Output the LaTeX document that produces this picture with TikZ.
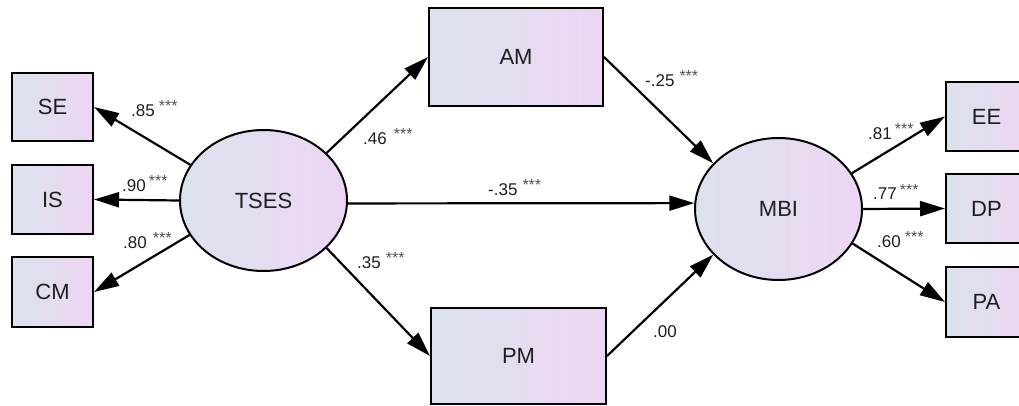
\documentclass[tikz,border=0pt]{standalone}
\usepackage{fontspec}
\setmainfont{Liberation Sans}
\usetikzlibrary{shapes.geometric,arrows.meta}
\definecolor{fillL}{RGB}{220,226,237}
\definecolor{fillR}{RGB}{237,214,243}
\definecolor{txt}{RGB}{30,30,30}
\definecolor{stargray}{RGB}{80,80,80}
\newcommand{\mystars}{\raisebox{5pt}{\fontsize{16}{16}\selectfont\color{stargray}***}}
\tikzset{
  obs/.style={draw=black, line width=2pt, rectangle, left color=fillL, right color=fillR,
    inner sep=0pt, font=\fontsize{22}{22}\selectfont, text=txt},
  lat/.style={draw=black, line width=2pt, ellipse, left color=fillL, right color=fillR,
    inner sep=0pt, minimum width=167pt, minimum height=141pt, font=\fontsize{22}{22}\selectfont, text=txt},
  path/.style={line width=2.2pt, -{Triangle[length=25pt,width=15pt]}},
  coef/.style={inner sep=0pt, anchor=base west, font=\fontsize{17}{17}\selectfont, text=txt}
}
\begin{document}
\begin{tikzpicture}[x=1pt,y=-1pt]
\useasboundingbox (0,0) rectangle (1019,406);
\clip (0,0) rectangle (1019,406);
% observed boxes
\node[obs, minimum width=81pt, minimum height=68pt] (se) at (52.5,107) {SE};
\node[obs, minimum width=81pt, minimum height=69pt] (is) at (52.5,199.5) {IS};
\node[obs, minimum width=81pt, minimum height=70pt] (cm) at (52.5,292) {CM};
\node[obs, minimum width=174pt, minimum height=98pt] (am) at (516,57) {AM};
\node[obs, minimum width=175pt, minimum height=96pt] (pm) at (518.5,356) {PM};
\node[obs, minimum width=81pt, minimum height=69pt] (ee) at (986.5,116.5) {EE};
\node[obs, minimum width=81pt, minimum height=69pt] (dp) at (986.5,208.5) {DP};
\node[obs, minimum width=81pt, minimum height=70pt] (pa) at (986.5,302) {PA};
% latent ellipses
\node[lat] (tses) at (263.5,200.5) {TSES};
\node[lat, minimum height=142pt] (mbi) at (778.5,209) {MBI};
% paths
\draw[path] (tses.154) -- (se.east);
\draw[path] (tses.west) -- (is.east);
\draw[path] (tses.205) -- (cm.east);
\draw[path] (tses.37) -- (am.west);
\draw[path] (tses.-37) -- (pm.west);
\draw[path] (tses.-2.4) -- (mbi.176.6);
\draw[path] (am.east) -- (mbi.145);
\draw[path] (pm.east) -- (mbi.215);
\draw[path] (mbi.26) -- (ee.west);
\draw[path] (mbi.east) -- (dp.west);
\draw[path] (mbi.-25) -- (pa.west);
% coefficients
\node[coef] (c1) at (131,117) {.85\hspace{4pt}\mystars};
\node[coef] (c2) at (122,191) {.90\hspace{3pt}\mystars};
\node[coef] (c3) at (123,248) {.80\hspace{6pt}\mystars};
\node[coef] (c4) at (363,145) {.46\hspace{7pt}\mystars};
\node[coef] (c5) at (645,87) {-.25\hspace{5pt}\mystars};
\node[coef] (c6) at (488,195) {-.35\hspace{5pt}\mystars};
\node[coef] (c7) at (357,268) {.35\hspace{5pt}\mystars};
\node[coef] (c8) at (653,337) {.00};
\node[coef] (c9) at (868,140) {.81\hspace{3pt}\mystars};
\node[coef] (c10) at (873,200) {.77\hspace{3pt}\mystars};
\node[coef] (c11) at (877,247) {.60\hspace{4pt}\mystars};
\end{tikzpicture}
\end{document}
